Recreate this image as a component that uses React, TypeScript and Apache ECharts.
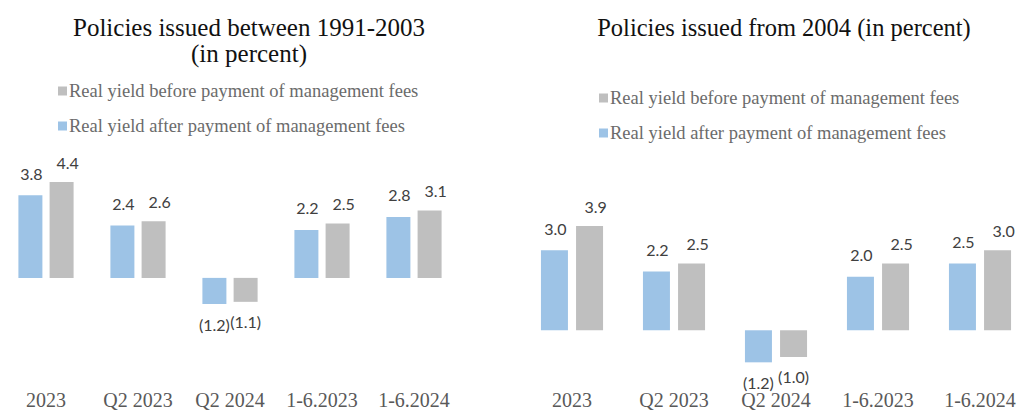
import React, { useEffect, useRef } from "react";
import * as echarts from "echarts";

const categories = ["2023", "Q2 2023", "Q2 2024", "1-6.2023", "1-6.2024"];
const leftAfter = [3.8, 2.4, -1.2, 2.2, 2.8];
const leftBefore = [4.4, 2.6, -1.1, 2.5, 3.1];
const rightAfter = [3.0, 2.2, -1.2, 2.0, 2.5];
const rightBefore = [3.9, 2.5, -1.0, 2.5, 3.0];
const nameBefore = "Real yield before payment of management fees";
const nameAfter = "Real yield after payment of management fees";
const leftTitle = "Policies issued between 1991-2003\n(in percent)";
const rightTitle = "Policies issued from 2004 (in percent)";

const BLUE = "#9DC3E6";
const GRAY = "#BFBFBF";

const fmt = (v: number) => (v < 0 ? `(${Math.abs(v).toFixed(1)})` : v.toFixed(1));

function buildData(vals: number[], dx: number, dist: number) {
  return vals.map((v) => ({
    value: v,
    label: {
      position: v < 0 ? "bottom" : "top",
      offset: v < 0 ? [0, 0] : [dx, 0],
      distance: v < 0 ? 12 : dist,
    },
  }));
}

export default function App() {
  const ref = useRef<HTMLDivElement>(null);
  useEffect(() => {
    if (!ref.current) return;
    const chart = echarts.init(ref.current, undefined, { renderer: "svg" });
    const labelStyle = {
      show: true,
      formatter: (p: any) => fmt(p.value),
      fontFamily: "Lato",
      fontSize: 16,
      color: "#404040",
    };
    const xAxisBase = {
      type: "category" as const,
      data: categories,
      axisLine: { show: false },
      axisTick: { show: false },
      axisLabel: {
        interval: 0,
        fontFamily: "Liberation Serif",
        fontSize: 20,
        color: "#595959",
        margin: 25,
      },
    };
    const yAxisBase = {
      type: "value" as const,
      show: false,
      splitLine: { show: false },
    };
    const legendBase = {
      orient: "vertical" as const,
      data: [nameBefore, nameAfter],
      icon: "rect",
      itemWidth: 9,
      itemHeight: 9,
      itemGap: 15,
      selectedMode: false,
      textStyle: {
        fontFamily: "Liberation Serif",
        fontSize: 18.5,
        color: "#6b6b6b",
        lineHeight: 20,
        padding: [0, 0, 0, -3],
      },
    };
    chart.setOption({
      animation: false,
      backgroundColor: "#ffffff",
      graphic: [
        {
          type: "text",
          x: 249,
          y: 14,
          style: {
            text: leftTitle,
            font: '25px "Liberation Serif"',
            fill: "#111111",
            textAlign: "center",
            lineHeight: 26,
          },
        },
        {
          type: "text",
          x: 784,
          y: 14,
          style: {
            text: rightTitle,
            font: '24.5px "Liberation Serif"',
            fill: "#111111",
            textAlign: "center",
            lineHeight: 26,
          },
        },
      ],
      legend: [
        { ...legendBase, left: 53, top: 76 },
        { ...legendBase, left: 594, top: 83 },
      ],
      grid: [
        { left: -5, top: 169, width: 465, height: 196 },
        { left: 521, top: 170, width: 520, height: 197 },
      ],
      xAxis: [
        { ...xAxisBase, gridIndex: 0 },
        { ...xAxisBase, gridIndex: 1 },
      ],
      yAxis: [
        { ...yAxisBase, gridIndex: 0, min: -4, max: 5 },
        { ...yAxisBase, gridIndex: 1, min: -1.3, max: 6 },
      ],
      series: [
        {
          type: "bar",
          name: nameAfter,
          xAxisIndex: 0,
          yAxisIndex: 0,
          barWidth: 24,
          barGap: "30%",
          itemStyle: { color: BLUE },
          label: labelStyle,
          data: buildData(leftAfter, 1, 14),
        },
        {
          type: "bar",
          name: nameBefore,
          xAxisIndex: 0,
          yAxisIndex: 0,
          barWidth: 24,
          barGap: "30%",
          itemStyle: { color: GRAY },
          label: labelStyle,
          data: buildData(leftBefore, 6, 12),
        },
        {
          type: "bar",
          name: nameAfter,
          xAxisIndex: 1,
          yAxisIndex: 1,
          barWidth: 27,
          barGap: "30%",
          itemStyle: { color: BLUE },
          label: labelStyle,
          data: buildData(rightAfter, 1, 14),
        },
        {
          type: "bar",
          name: nameBefore,
          xAxisIndex: 1,
          yAxisIndex: 1,
          barWidth: 27,
          barGap: "30%",
          itemStyle: { color: GRAY },
          label: labelStyle,
          data: buildData(rightBefore, 6, 12),
        },
      ],
    });
    return () => chart.dispose();
  }, []);
  return (
    <div
      ref={ref}
      style={{ position: "absolute", left: 0, top: 0, width: 1031, height: 410 }}
    />
  );
}
